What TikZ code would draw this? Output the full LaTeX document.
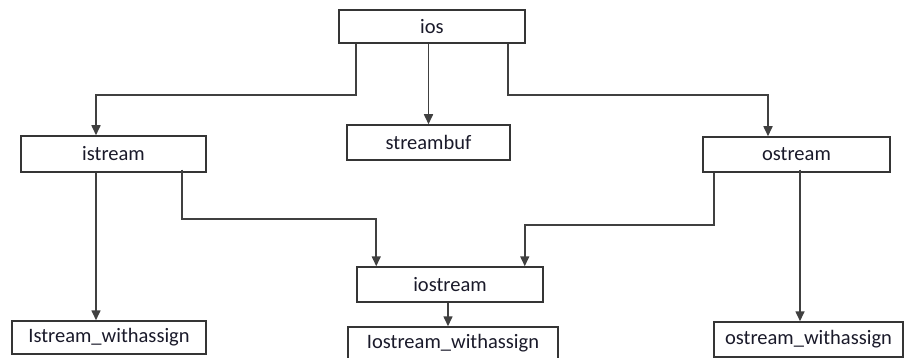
\documentclass[tikz,border=0pt]{standalone}
\usepackage{fontspec}
\setmainfont{Carlito}
\usetikzlibrary{arrows.meta,positioning}
\definecolor{linec}{HTML}{404040}
\definecolor{boxc}{HTML}{353535}
\definecolor{txtc}{HTML}{1A1A2A}
\tikzset{
  cls/.style={draw=boxc, line width=1.5pt, fill=white, rectangle, inner sep=0pt,
    text=txtc, font=\fontsize{20.5}{24}\selectfont},
  arr/.style={draw=linec, line width=1.6pt, -{Triangle[width=9pt,length=10pt]}},
  ln/.style={draw=linec, line width=1.6pt}
}
\begin{document}
\begin{tikzpicture}[x=1pt,y=-1pt]
\clip (0,0) rectangle (904,358);
\useasboundingbox (0,0) rectangle (904,358);
\fill[white] (0,0) rectangle (904,358);

\node[cls, minimum width=186pt, minimum height=33pt] (ios) at (432,26.5) {ios};
\node[cls, minimum width=163pt, minimum height=35pt] (streambuf) at (428.5,142.5) {streambuf};
\node[cls, minimum width=185pt, minimum height=36pt] (istream) at (113.5,154) {istream};
\node[cls, minimum width=187pt, minimum height=35pt] (ostream) at (796.5,154.5) {ostream};
\node[cls, minimum width=186pt, minimum height=35pt] (iostream) at (450,284.5) {iostream};
\node[cls, minimum width=194pt, minimum height=33pt] (iw) at (109,337.5) {Istream\_withassign};
\node[cls, minimum width=210pt, minimum height=40pt] (iow) at (453,347) {};
\node[text=txtc, font=\fontsize{20.5}{24}\selectfont] (iowt) at (453,343) {Iostream\_withassign};
\node[cls, minimum width=189pt, minimum height=35pt] (ow) at (808.5,339.5) {ostream\_withassign};

% ios -> istream
\draw[arr] ([xshift=18pt]ios.south west) -- ++(0,51) -| ([xshift=-17.5pt]istream.north);
% ios -> streambuf
\draw[arr] (streambuf.north |- ios.south) -- (streambuf.north);
% ios -> ostream
\draw[arr] ([xshift=-18pt]ios.south east) -- ++(0,51) -| ([xshift=-28.5pt]ostream.north);
% istream -> Istream_withassign
\draw[arr] ([xshift=-17.5pt]istream.south) -- ([xshift=-17.5pt]istream.south |- iw.north);
% istream -> iostream
\draw[arr] ([xshift=-25pt,yshift=3pt]istream.south east) -- ++(0,49) -| ([xshift=20pt]iostream.north west);
% ostream -> iostream
\draw[arr] ([xshift=12pt]ostream.south west) -- ++(0,52) -| ([xshift=-19pt]iostream.north east);
% ostream -> ostream_withassign
\draw[arr] ([xshift=3.5pt,yshift=3pt]ostream.south) -- ([xshift=3.5pt]ostream.south |- ow.north);
% iostream -> Iostream_withassign
\draw[arr] ([xshift=-2pt]iostream.south) -- ([xshift=-2pt]iostream.south |- iow.north);
\end{tikzpicture}
\end{document}
